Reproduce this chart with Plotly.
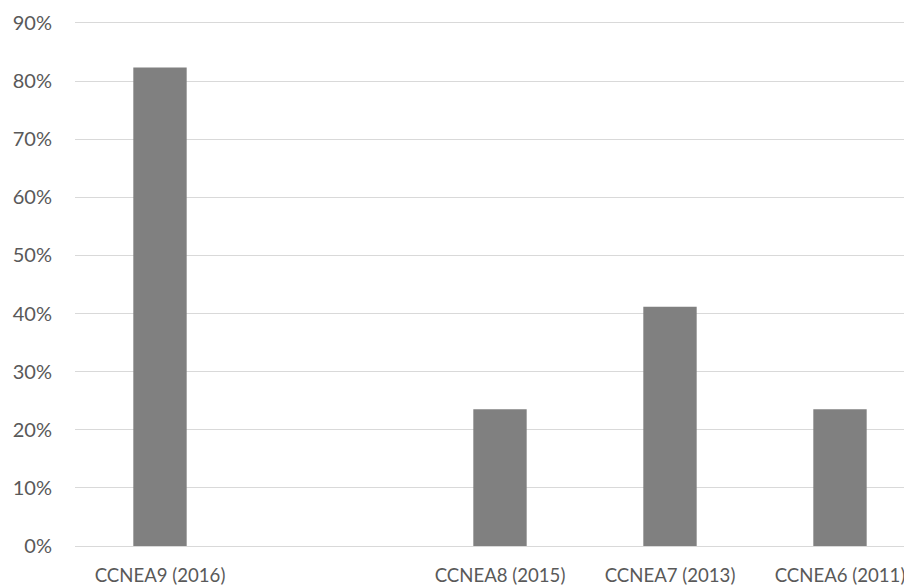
import plotly.graph_objects as go

categories = ["CCNEA9 (2016)", " ", "CCNEA8 (2015)", "CCNEA7 (2013)", "CCNEA6 (2011)"]
values = [0.8235, None, 0.2353, 0.4118, 0.2353]
y_ticks = [0, 0.1, 0.2, 0.3, 0.4, 0.5, 0.6, 0.7, 0.8, 0.9]
y_tick_labels = ["0%", "10%", "20%", "30%", "40%", "50%", "60%", "70%", "80%", "90%"]

fig = go.Figure(go.Bar(x=categories, y=values, marker=dict(color="#808080", line=dict(width=0)), width=0.314))

font = dict(family="Lato, Open Sans, sans-serif", size=20, color="#595959")
xfont = dict(family="Lato, Open Sans, sans-serif", size=18.6, color="#595959")
fig.update_layout(
    width=904, height=579,
    margin=dict(l=67, r=0, t=9, b=41),
    paper_bgcolor="white", plot_bgcolor="white",
    showlegend=False,
    font=font,
    xaxis=dict(type="category", range=[-0.5, 4.4235], showgrid=False, showline=False,
               ticks="", tickfont=xfont, automargin=False, ticklabelstandoff=16),
    yaxis=dict(range=[0, 0.9103], tickvals=y_ticks, ticktext=y_tick_labels, showgrid=True,
               gridcolor="#d9d9d9", gridwidth=1.3, zeroline=True, zerolinecolor="#d9d9d9",
               zerolinewidth=1.3, showline=False, ticks="", tickfont=font, automargin=False,
               ticklabelstandoff=22),
)
fig.write_html("out.html")
